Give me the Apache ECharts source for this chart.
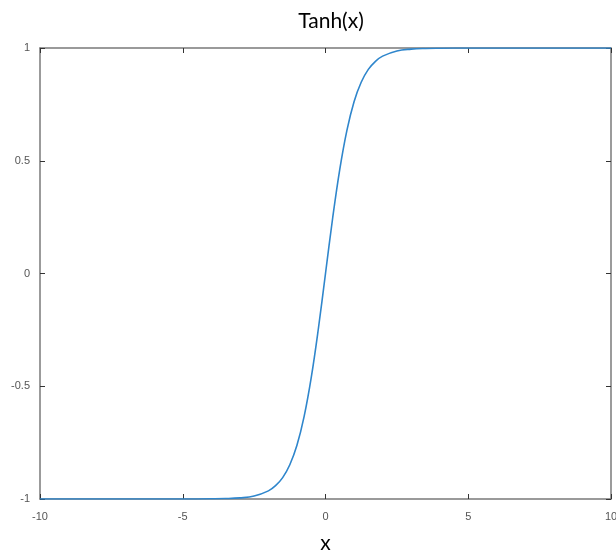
<!DOCTYPE html>
<html>
<head>
    <meta charset="utf-8">
    <script src="https://cdn.jsdelivr.net/npm/echarts@6/dist/echarts.min.js"></script>
    <style>
        html, body { margin: 0; padding: 0; background: #fff; }
    </style>
</head>
<body>
<div id="main" style="width: 616px;height:556px;"></div>

<script type="text/javascript">
    // values
    var xValues = [-10, -8, -6, -5, -4, -3.5, -3, -2.5, -2, -1.75, -1.5, -1.25, -1, -0.75, -0.5, -0.25,
        0, 0.25, 0.5, 0.75, 1, 1.25, 1.5, 1.75, 2, 2.5, 3, 3.5, 4, 5, 6, 8, 10];
    var yValues = [-1, -1, -1, -1, -0.999, -0.998, -0.995, -0.987, -0.964, -0.941, -0.905, -0.848, -0.762, -0.635, -0.462, -0.245,
        0, 0.245, 0.462, 0.635, 0.762, 0.848, 0.905, 0.941, 0.964, 0.987, 0.995, 0.998, 0.999, 1, 1, 1, 1];
    var xTicks = [-10, -5, 0, 5, 10];
    var yTicks = [-1, -0.5, 0, 0.5, 1];

    var points = [];
    for (var i = 0; i < xValues.length; i++) {
        points.push([xValues[i], yValues[i]]);
    }

    var myChart = echarts.init(document.getElementById('main'));

    var frameLine = { onZero: false, lineStyle: { color: '#7a7a7a', width: 1.5 } };
    var tickIn = { inside: true, length: 5, lineStyle: { color: '#333', width: 1 } };
    var labelStyle = { color: '#555', fontSize: 11, fontFamily: 'Liberation Sans' };

    var option = {
        animation: false,
        title: {
            text: 'Tanh(x)',
            left: 326,
            textAlign: 'center',
            top: 6,
            textStyle: { fontSize: 21, fontWeight: 'normal', color: '#000', fontFamily: 'Lato' }
        },
        grid: { left: 40, right: 5, top: 48, bottom: 57, outerBoundsMode: 'none', containLabel: false },
        xAxis: [{
            type: 'value',
            position: 'bottom',
            min: xTicks[0], max: xTicks[xTicks.length - 1], interval: 5,
            axisLine: frameLine,
            axisTick: tickIn,
            axisLabel: Object.assign({ margin: 12 }, labelStyle),
            splitLine: { show: false },
            name: 'x',
            nameLocation: 'middle',
            nameGap: 34,
            nameTextStyle: { fontSize: 21, color: '#000', fontFamily: 'Lato' }
        }, {
            type: 'value',
            position: 'top',
            min: xTicks[0], max: xTicks[xTicks.length - 1], interval: 5,
            axisLine: frameLine,
            axisTick: tickIn,
            axisLabel: { show: false },
            splitLine: { show: false }
        }],
        yAxis: [{
            type: 'value',
            position: 'left',
            min: yTicks[0], max: yTicks[yTicks.length - 1], interval: 0.5,
            axisLine: frameLine,
            axisTick: tickIn,
            axisLabel: Object.assign({ margin: 10 }, labelStyle),
            splitLine: { show: false }
        }, {
            type: 'value',
            position: 'right',
            min: yTicks[0], max: yTicks[yTicks.length - 1], interval: 0.5,
            axisLine: frameLine,
            axisTick: tickIn,
            axisLabel: { show: false },
            splitLine: { show: false }
        }],
        series: [{
            type: 'line',
            xAxisIndex: 0,
            yAxisIndex: 0,
            data: points,
            smooth: 0.4,
            showSymbol: false,
            lineStyle: { color: '#2f86cc', width: 1.6 },
            z: 3
        }]
    };

    myChart.setOption(option);
</script>
</body>
</html>
